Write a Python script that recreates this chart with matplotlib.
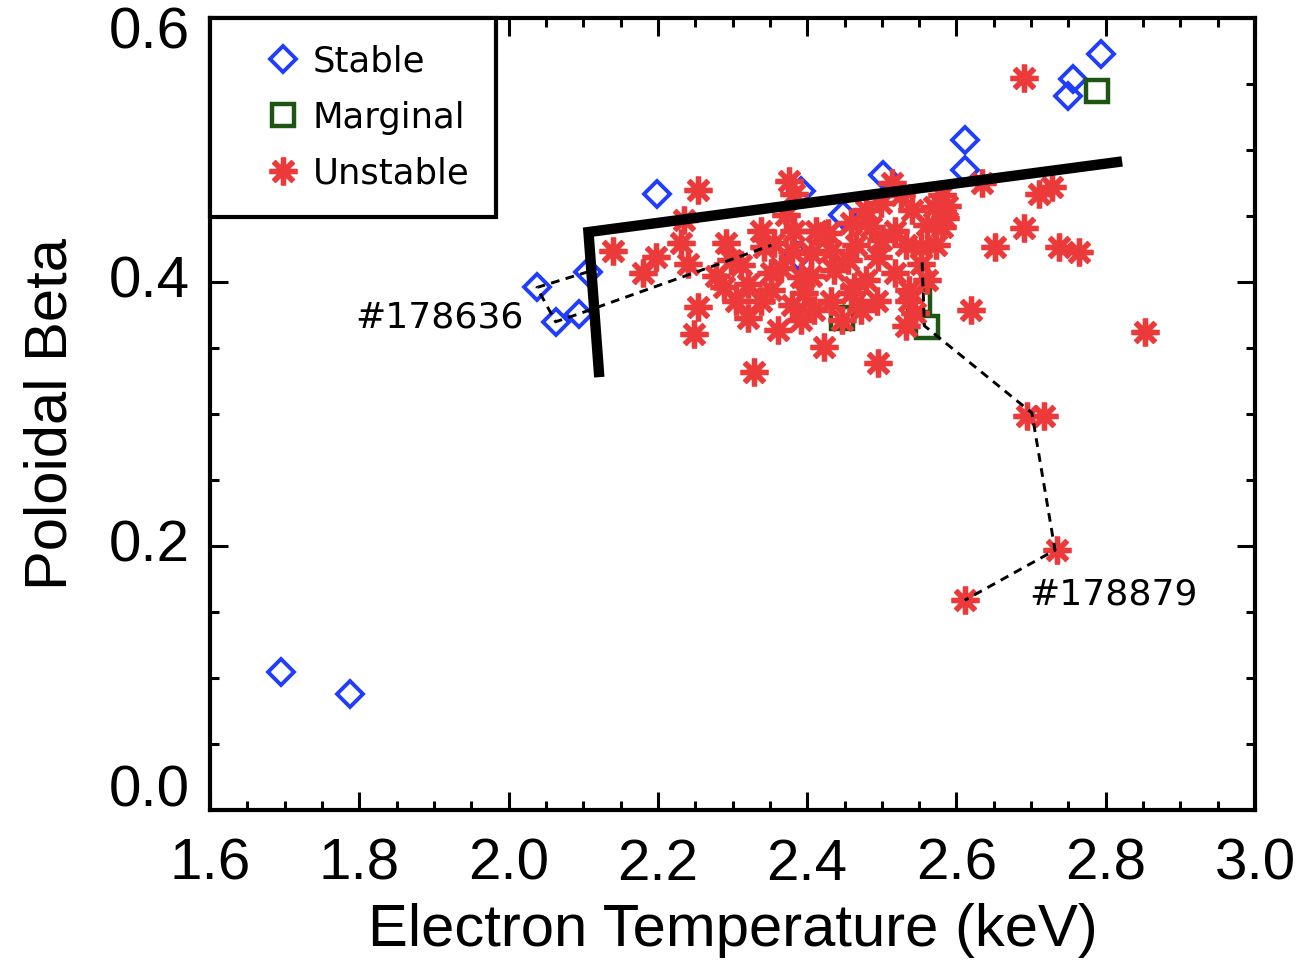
import numpy as np
import matplotlib
matplotlib.use('Agg')
import matplotlib.pyplot as plt
import matplotlib.transforms as mtransforms
from matplotlib.ticker import MultipleLocator, FormatStrFormatter
from matplotlib.lines import Line2D

# --- data ---
stable_te = [1.695, 1.788, 2.038, 2.063, 2.094, 2.107, 2.199, 2.392, 2.448,
             2.502, 2.611, 2.611, 2.793, 2.756, 2.749, 2.388]
stable_bp = [0.105, 0.088, 0.396, 0.370, 0.376, 0.408, 0.467, 0.469, 0.451,
             0.481, 0.485, 0.508, 0.573, 0.554, 0.541, 0.420]

marginal_te = [2.447, 2.560, 2.788, 2.550]
marginal_bp = [0.373, 0.366, 0.545, 0.386]

unstable_te = [2.140, 2.180, 2.197, 2.235, 2.254, 2.231, 2.240, 2.254, 2.248, 2.291,
               2.298, 2.289, 2.321, 2.342, 2.352, 2.321, 2.361, 2.329, 2.376, 2.383,
               2.356, 2.383, 2.428, 2.459, 2.486, 2.517, 2.499, 2.513, 2.540, 2.570,
               2.580, 2.553, 2.495, 2.455, 2.405, 2.365, 2.392, 2.436, 2.463, 2.517,
               2.553, 2.352, 2.396, 2.459, 2.409, 2.423, 2.495, 2.536, 2.544, 2.536,
               2.634, 2.710, 2.728, 2.584, 2.691, 2.651, 2.737, 2.764, 2.620, 2.852,
               2.690, 2.694, 2.717, 2.734, 2.611, 2.580, 2.526, 2.479, 2.560, 2.573,
               2.338, 2.311, 2.338, 2.379, 2.432, 2.479, 2.499, 2.533, 2.432, 2.379,
               2.412, 2.466, 2.493, 2.305, 2.278, 2.392, 2.533, 2.560, 2.587, 2.472,
               2.372, 2.405, 2.446]
unstable_bp = [0.424, 0.407, 0.419, 0.447, 0.470, 0.430, 0.414, 0.381, 0.361, 0.430,
               0.417, 0.396, 0.399, 0.427, 0.407, 0.373, 0.364, 0.332, 0.477, 0.467,
               0.430, 0.439, 0.437, 0.445, 0.442, 0.439, 0.460, 0.475, 0.455, 0.457,
               0.442, 0.427, 0.419, 0.417, 0.422, 0.411, 0.404, 0.409, 0.396, 0.407,
               0.414, 0.394, 0.392, 0.392, 0.379, 0.351, 0.339, 0.386, 0.377, 0.394,
               0.475, 0.467, 0.472, 0.449, 0.441, 0.427, 0.427, 0.423, 0.379, 0.362,
               0.555, 0.299, 0.299, 0.197, 0.159, 0.466, 0.466, 0.455, 0.443, 0.428,
               0.439, 0.413, 0.386, 0.383, 0.386, 0.402, 0.432, 0.428, 0.424, 0.424,
               0.439, 0.428, 0.386, 0.386, 0.405, 0.371, 0.367, 0.402, 0.458, 0.379,
               0.451, 0.405, 0.371]

# stability boundary (thick line)
bound_te = [2.121, 2.107, 2.815]
bound_bp = [0.332, 0.438, 0.491]

# shot trajectories
shot1_te = [2.107, 2.038, 2.063, 2.094, 2.352]
shot1_bp = [0.408, 0.396, 0.370, 0.376, 0.428]
shot2_te = [2.554, 2.557, 2.701, 2.732, 2.611]
shot2_bp = [0.415, 0.367, 0.301, 0.197, 0.159]

y_ticks = [0.0, 0.2, 0.4, 0.6]

c_blue = '#1f3cff'
c_green = '#1f5512'
c_red = '#ec3a3a'

stable_kw = dict(ls='none', marker='D', ms=13, mew=2.8, mfc='none', mec=c_blue)
marg_kw = dict(ls='none', marker='s', ms=16.5, mew=3.2, mfc='white', mec=c_green)
unst_kw = dict(ls='none', marker=(8, 2, 0), ms=20, mew=3.8, mec=c_red, mfc=c_red)

fig = plt.figure(figsize=(13.01, 9.61), dpi=100)
ax = fig.add_axes([0.1614, 0.157, 0.8033, 0.824])

ax.plot(stable_te, stable_bp, zorder=3, **stable_kw)
ax.plot(marginal_te, marginal_bp, zorder=4, **marg_kw)
ax.plot(unstable_te, unstable_bp, zorder=5, **unst_kw)

ax.plot(bound_te, bound_bp, color='black', lw=7.5, solid_joinstyle='miter', zorder=7)
ax.plot(shot1_te, shot1_bp, color='black', lw=2.1, dashes=(3, 2.2), zorder=6)
ax.plot(shot2_te, shot2_bp, color='black', lw=2.1, dashes=(3, 2.2), zorder=6)

ax.text(1.795, 0.373, '#178636', fontsize=26, ha='left', va='center',
        family='DejaVu Sans')
ax.text(2.698, 0.163, '#178879', fontsize=26, ha='left', va='center',
        family='DejaVu Sans')

ax.set_xlim(1.6, 3.0)
ax.set_ylim(0.0, 0.6)
ax.xaxis.set_major_locator(MultipleLocator(0.2))
ax.xaxis.set_minor_locator(MultipleLocator(0.05))
ax.set_yticks(y_ticks)
ax.yaxis.set_minor_locator(MultipleLocator(0.05))
ax.xaxis.set_major_formatter(FormatStrFormatter('%.1f'))
ax.tick_params(which='both', direction='in', top=True, right=True, width=2.2)
ax.tick_params(which='major', length=13)
ax.tick_params(which='minor', length=6.5)
ax.tick_params(axis='x', pad=20, labelsize=42)
ax.tick_params(axis='y', labelleft=False)
for lab in ax.get_xticklabels():
    lab.set_family('Liberation Sans')
for sp in ax.spines.values():
    sp.set_linewidth(3)

# y labels written by hand: IDL keeps the end labels inside the plot height
ytrans = ax.get_yaxis_transform()
for v in y_ticks:
    shift = 0
    if v == y_ticks[0]:
        shift = 19
    elif v == y_ticks[-1]:
        shift = -15
    tr = ytrans + mtransforms.ScaledTranslation(0, shift / 100, fig.dpi_scale_trans)
    ax.text(-0.019, v, f'{v:.1f}', transform=tr, ha='right', va='center',
            fontsize=42, family='Liberation Sans')

ax.set_xlabel('Electron Temperature (keV)', fontsize=43, family='Liberation Sans',
              labelpad=8)
ax.set_ylabel('Poloidal Beta', fontsize=43, family='Liberation Sans', labelpad=91)

handles = [Line2D([], [], **stable_kw), Line2D([], [], **marg_kw),
           Line2D([], [], **unst_kw)]
leg = ax.legend(handles, ['Stable', 'Marginal', 'Unstable'], loc='upper left',
                borderaxespad=0, fancybox=False, framealpha=1, edgecolor='black',
                prop={'family': 'DejaVu Sans', 'size': 25.5}, handlelength=2.6,
                handletextpad=-0.45, labelspacing=0.62, borderpad=0.75)
leg.get_frame().set_linewidth(3)
leg.set_zorder(10)

fig.savefig('out.png', dpi=100)
